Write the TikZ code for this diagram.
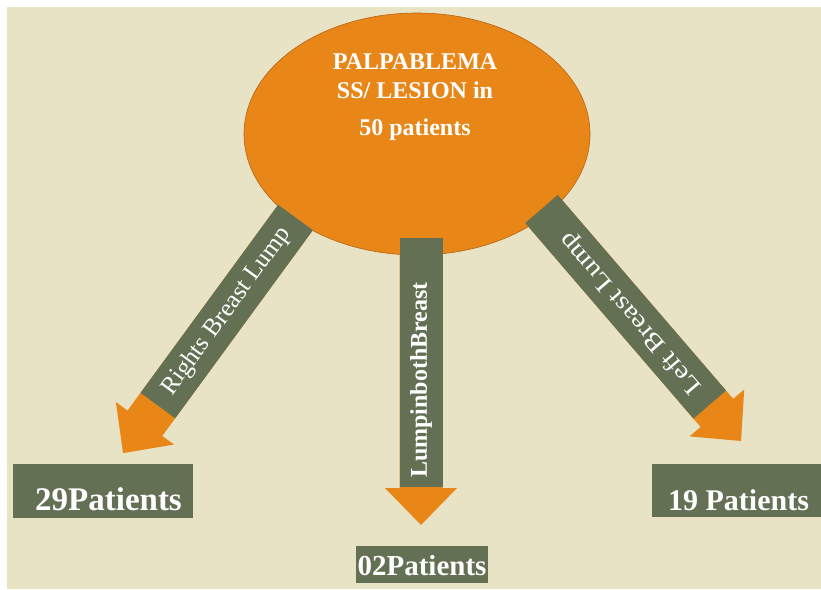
\documentclass[tikz,border=0pt]{standalone}
\usepackage{fontspec}
\setmainfont{Liberation Serif}
\usetikzlibrary{shapes.geometric}
\definecolor{bg}{RGB}{231,227,196}
\definecolor{orng}{RGB}{232,135,24}
\definecolor{orngdark}{RGB}{184,100,20}
\definecolor{grn}{RGB}{99,112,83}
\tikzset{
  shafttext/.style={text=white, inner sep=0pt, font=\fontsize{25}{25}\selectfont},
  elltext/.style={text=white, inner sep=0pt, anchor=base, font=\bfseries\fontsize{24}{24}\selectfont},
  boxstyle/.style={fill=grn, draw=none, inner sep=0pt, anchor=north west},
  boxtext/.style={text=white, inner sep=0pt, anchor=base},
}
\newcommand\BlkArrow[7]{%
  \begin{scope}[shift={(#1)}, rotate=#2]
    \fill[orng] (0,-21.5) -- ({#3-37},-21.5) -- ({#3-37},-36) -- (#3,0) -- ({#3-37},36) -- ({#3-37},21.5) -- (0,21.5) -- cycle;
    \fill[grn] (0,-21.5) rectangle (#4,21.5);
    \node[shafttext, rotate=#6] at (#5,0) {#7};
  \end{scope}}
\begin{document}
\begin{tikzpicture}[x=1pt, y=-1pt]
\useasboundingbox (0,0) rectangle (821,589);
\fill[white] (0,0) rectangle (821,589);
\fill[bg] (7,7) rectangle (821,589);
% central ellipse
\node[ellipse, minimum width=346pt, minimum height=242pt, fill=orng, draw=orngdark, line width=0.6pt, inner sep=0pt] (ell) at (417,134) {};
\node[elltext] (t1) at (415,69) {PALPABLEMA};
\node[elltext] (t2) at (415,98) {SS/ LESION in};
\node[elltext] (t3) at (415,135) {50 patients};
% arrow start points
\coordinate (sL) at (295.5,217.5);
\coordinate (sM) at (421,238);
\coordinate (sR) at (541.5,209);
\BlkArrow{sL}{-126.2}{292}{233}{116.5}{53.8}{Rights Breast Lump}
\BlkArrow{sM}{-90}{287}{249}{142}{90}{\bfseries\fontsize{24}{24}\selectfont LumpinbothBreast}
\BlkArrow{sR}{-49.3}{306}{258}{137}{130.7}{\scalebox{1.15}[1]{Left Breast Lump}}
% result boxes
\node[boxstyle, minimum width=180pt, minimum height=54pt] (b29) at (13,464) {};
\node[boxtext, font=\bfseries\fontsize{33}{33}\selectfont] (l29) at (108.5,510) {29Patients};
\node[boxstyle, minimum width=169pt, minimum height=53pt] (b19) at (652,464) {};
\node[boxtext, font=\bfseries\fontsize{30}{30}\selectfont] (l19) at (738.5,510) {19 Patients};
\node[boxstyle, minimum width=132pt, minimum height=37pt] (b02) at (356,546) {};
\node[boxtext, font=\bfseries\fontsize{29}{29}\selectfont] (l02) at (422,575) {02Patients};
\end{tikzpicture}
\end{document}
